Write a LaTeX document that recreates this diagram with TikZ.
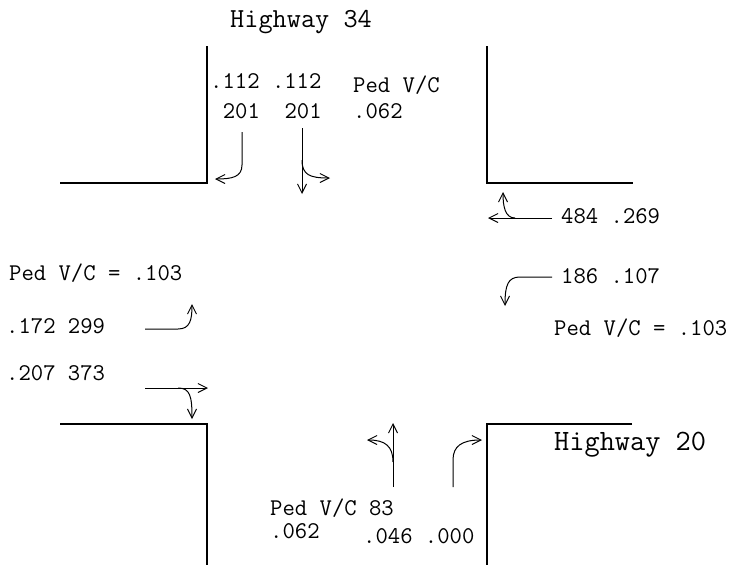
\documentclass[tikz,border=0pt]{standalone}
\usetikzlibrary{arrows.meta}
\begin{document}
\begin{tikzpicture}[x=1pt,y=-1pt,
  road/.style={line width=1.1pt, line join=miter},
  arr/.style={line width=1pt, -{Straight Barb[length=9pt,width=9pt,line width=1pt]}},
  lbl/.style={anchor=base west, inner sep=0pt, font=\ttfamily\fontsize{24}{28}\selectfont},
  hwy/.style={anchor=base west, inner sep=0pt}]
\useasboundingbox (0,0) rectangle (732,565);
% road edges
\draw[road] (207,46) -- (207,183) -- (60,183);
\draw[road] (487,46) -- (487,183) -- (633,183);
\draw[road] (60,424) -- (207,424) -- (207,565);
\draw[road] (632,424) -- (487,424) -- (487,565);
% labels
\node[hwy, font=\ttfamily\fontsize{27.5}{32}\selectfont] (hw34) at (230,27) {Highway 34};
\node[hwy, font=\ttfamily\fontsize{29.5}{34}\selectfont] (hw20) at (554,450) {Highway 20};
\node[lbl] (svc) at (210,88) {.112 .112};
\node[lbl] (svol) at (222.6,118) {201~~201};
\node[lbl] (sped) at (353,92) {Ped V/C};
\node[lbl] (spedv) at (353,118) {.062};
\node[lbl] (wth) at (561,223) {484 .269};
\node[lbl] (wlt) at (561,283) {186 .107};
\node[lbl] (eped) at (554,335) {Ped V/C = .103};
\node[lbl] (wped) at (9,280) {Ped V/C = .103};
\node[lbl] (elt) at (6,333) {.172 299};
\node[lbl] (eth) at (6,380) {.207 373};
\node[lbl] (nped) at (270,515) {Ped V/C 83};
\node[lbl] (npedv) at (270,538) {.062};
\node[lbl] (nvc) at (363,543) {.046 .000};
% southbound
\coordinate (s1a) at (242,132);
\coordinate (s1b) at (242,165);
\coordinate (s1c) at (215,179);
\draw[arr] (s1a) -- (s1b) .. controls (242,177) and (232,179) .. (s1c);
\coordinate (s2a) at (302,128);
\coordinate (s2b) at (302,194);
\coordinate (s2c) at (302,160);
\coordinate (s2d) at (330,178);
\draw[arr] (s2a) -- (s2b);
\draw[arr] (s2c) .. controls (302,175) and (310,178) .. (s2d);
% westbound
\coordinate (w1a) at (552,218);
\coordinate (w1b) at (488,218);
\coordinate (w1c) at (515,218);
\coordinate (w1d) at (503,192);
\draw[arr] (w1a) -- (w1b);
\draw[arr] (w1c) .. controls (505,218) and (503,206) .. (w1d);
\coordinate (w2a) at (552,277);
\coordinate (w2b) at (520,277);
\coordinate (w2c) at (505,306);
\draw[arr] (w2a) -- (w2b) .. controls (508,277) and (505,285) .. (w2c);
% eastbound
\coordinate (e1a) at (145,329);
\coordinate (e1b) at (178,329);
\coordinate (e1c) at (192,304);
\draw[arr] (e1a) -- (e1b) .. controls (190,329) and (192,320) .. (e1c);
\coordinate (e2a) at (145,388);
\coordinate (e2b) at (208,388);
\coordinate (e2c) at (178,388);
\coordinate (e2d) at (192,419);
\draw[arr] (e2a) -- (e2b);
\draw[arr] (e2c) .. controls (190,388) and (192,396) .. (e2d);
% northbound
\coordinate (n1a) at (393,487);
\coordinate (n1b) at (393,423);
\coordinate (n1c) at (393,462);
\coordinate (n1d) at (367,440);
\draw[arr] (n1a) -- (n1b);
\draw[arr] (n1c) .. controls (393,446) and (385,440) .. (n1d);
\coordinate (n2a) at (453,487);
\coordinate (n2b) at (453,460);
\coordinate (n2c) at (482,440);
\draw[arr] (n2a) -- (n2b) .. controls (453,446) and (462,440) .. (n2c);
\end{tikzpicture}
\end{document}
